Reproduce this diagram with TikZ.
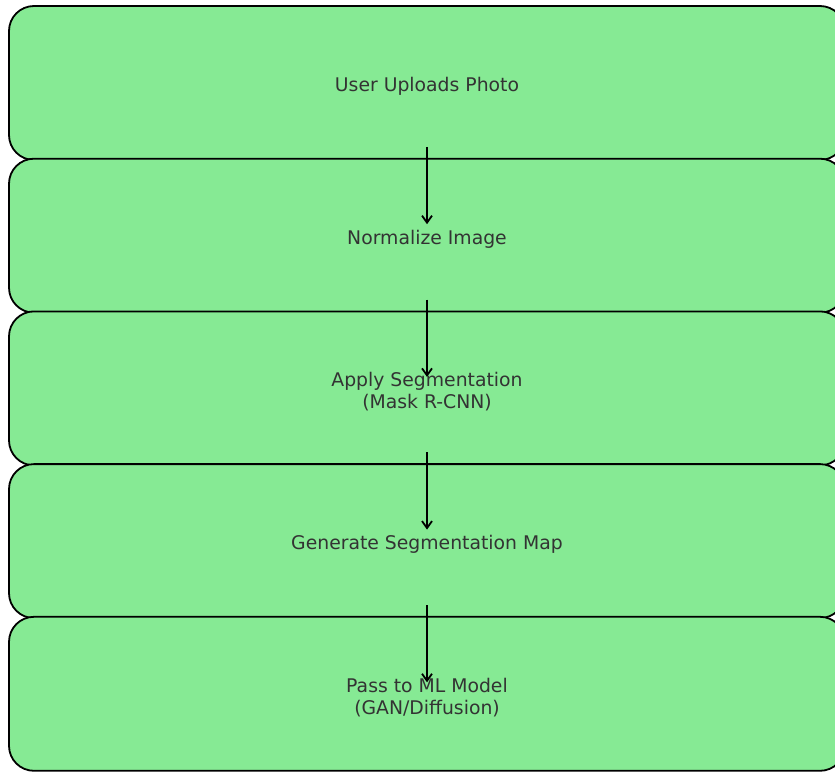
\documentclass[tikz,border=0pt]{standalone}
\usepackage{fontspec}
\setmainfont{DejaVu Sans}
\usetikzlibrary{arrows.meta}
\definecolor{boxgreen}{HTML}{86EA94}
\definecolor{txtgrey}{HTML}{333333}
\tikzset{
  stage/.style={draw=black, line width=1.8pt, fill=boxgreen, rounded corners=25pt,
    minimum width=836pt, minimum height=154pt, inner sep=0pt},
  stagetext/.style={inner sep=0pt, align=center, text=txtgrey,
    font=\fontsize{18.8pt}{22pt}\selectfont},
  flow/.style={draw=black, line width=1.8pt, -{Straight Barb[length=7pt,width=10pt]}}
}
\begin{document}
\begin{tikzpicture}[x=1pt, y=-1pt]
  \useasboundingbox (0,0) rectangle (835,773);
  \clip (0,0) rectangle (835,773);
  % pipeline stages, each overlapping the previous one slightly
  \node[stage] (b1) at (427,83.0)  {};
  \node[stage] (b2) at (427,235.7) {};
  \node[stage] (b3) at (427,388.4) {};
  \node[stage] (b4) at (427,541.1) {};
  \node[stage] (b5) at (427,693.8) {};
  % stage captions
  \node[stagetext] (t1) at ([yshift=-3.5pt]b1.center) {User Uploads Photo};
  \node[stagetext] (t2) at ([yshift=-3.5pt]b2.center) {Normalize Image};
  \node[stagetext] (t3) at ([yshift=-3.5pt]b3.center) {Apply Segmentation\\(Mask R-CNN)};
  \node[stagetext] (t4) at ([yshift=-3.5pt]b4.center) {Generate Segmentation Map};
  \node[stagetext] (t5) at ([yshift=-3.5pt]b5.center) {Pass to ML Model\\(GAN/Diffusion)};
  % arrows between consecutive stages
  \draw[flow] ([yshift=-64pt]b1.center) -- ([yshift=11.5pt]b2.center);
  \draw[flow] ([yshift=-64pt]b2.center) -- ([yshift=11.5pt]b3.center);
  \draw[flow] ([yshift=-64pt]b3.center) -- ([yshift=11.5pt]b4.center);
  \draw[flow] ([yshift=-64pt]b4.center) -- ([yshift=11.5pt]b5.center);
\end{tikzpicture}
\end{document}
